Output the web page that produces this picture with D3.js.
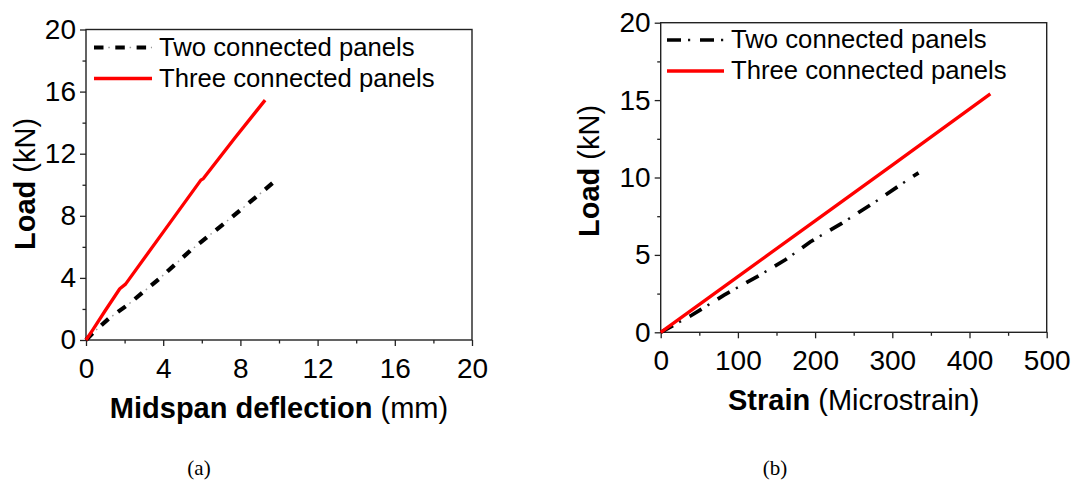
<!DOCTYPE html>
<html>
<head>
<meta charset="utf-8">
<script src="https://cdn.jsdelivr.net/npm/d3@7"></script>
<style>
  body { margin: 0; background: #fff; }
  svg { display: block; }
  text { font-family: "Liberation Sans", Arial, sans-serif; fill: #000; }
</style>
</head>
<body>
<div id="chart"></div>
<script>
// Panel (a): load vs midspan deflection
const deflTwoX = [0, 0.35, 1.2, 2.2, 3.8, 5.4, 7.2, 8.9, 9.85];
const deflTwoY = [0, 0.45, 1.4, 2.3, 3.95, 5.75, 7.55, 9.3, 10.3];
const deflThreeX = [0, 0.35, 1.0, 1.75, 2.05, 4.0, 5.95, 6.08, 7.7, 9.28];
const deflThreeY = [0, 0.65, 1.9, 3.3, 3.6, 6.95, 10.3, 10.4, 13.0, 15.45];

// Panel (b): load vs strain
const strainTwoX = [0, 40, 82, 125, 162, 194, 235, 280, 323, 334];
const strainTwoY = [0, 1.1, 2.4, 3.6, 4.7, 5.85, 7.05, 8.5, 9.95, 10.3];
const strainThreeX = [0, 100, 200, 300, 427];
const strainThreeY = [0, 3.6, 7.2, 10.8, 15.4];

const seriesNames = ["Two connected panels", "Three connected panels"];
const deflTicksX = [0, 4, 8, 12, 16, 20];
const deflTicksY = [0, 4, 8, 12, 16, 20];
const strainTicksX = [0, 100, 200, 300, 400, 500];
const strainTicksY = [0, 5, 10, 15, 20];

const width = 1075, height = 484;

const svg = d3.select("#chart")
  .append("svg")
  .attr("width", width)
  .attr("height", height);

const zip = (xs, ys) => xs.map((x, i) => [x, ys[i]]);

function drawPanel(cfg) {
  const x = d3.scaleLinear().domain(cfg.xDomain).range([cfg.left, cfg.right]);
  const y = d3.scaleLinear().domain(cfg.yDomain).range([cfg.bottom, cfg.top]);
  const g = svg.append("g");

  // minor ticks first
  g.append("g")
    .attr("transform", `translate(0,${cfg.bottom})`)
    .call(d3.axisBottom(x).tickValues(cfg.xMinor).tickSize(3.5).tickFormat(""))
    .call(a => a.select(".domain").remove());
  g.append("g")
    .attr("transform", `translate(${cfg.left},0)`)
    .call(d3.axisLeft(y).tickValues(cfg.yMinor).tickSize(3.5).tickFormat(""))
    .call(a => a.select(".domain").remove());

  // major ticks
  const xa = g.append("g")
    .attr("transform", `translate(0,${cfg.bottom})`)
    .call(d3.axisBottom(x).tickValues(cfg.xTicks).tickSize(6).tickPadding(5));
  const ya = g.append("g")
    .attr("transform", `translate(${cfg.left},0)`)
    .call(d3.axisLeft(y).tickValues(cfg.yTicks).tickSize(6).tickPadding(4));
  [xa, ya].forEach(a => {
    a.select(".domain").remove();
    a.selectAll("text").style("font-size", "28px").style("font-family", "Liberation Sans, Arial, sans-serif").attr("fill", "#000");
  });
  xa.selectAll("text").attr("dy", "0.95em");
  g.selectAll(".tick line").attr("stroke", "#222").attr("stroke-width", 1.3);

  // frame
  g.append("rect")
    .attr("x", cfg.left).attr("y", cfg.top)
    .attr("width", cfg.right - cfg.left).attr("height", cfg.bottom - cfg.top)
    .attr("fill", "none").attr("stroke", "#222").attr("stroke-width", 1.4);

  const line = d3.line().x(d => x(d[0])).y(d => y(d[1]));

  // black dash-dot series
  const two = zip(cfg.twoX, cfg.twoY);
  g.append("path").datum(two).attr("d", line)
    .attr("fill", "none").attr("stroke", "#000").attr("stroke-width", cfg.dashWidth)
    .attr("stroke-dasharray", cfg.dash);
  g.append("path").datum(two).attr("d", line)
    .attr("fill", "none").attr("stroke", cfg.dotColor).attr("stroke-width", cfg.dotWidth)
    .attr("stroke-dasharray", cfg.dot);

  // red series
  g.append("path").datum(zip(cfg.threeX, cfg.threeY)).attr("d", line)
    .attr("fill", "none").attr("stroke", "#ff0000").attr("stroke-width", 3.3)
    .attr("stroke-linejoin", "round");

  // legend
  const lg = g.append("g");
  lg.append("line")
    .attr("x1", cfg.legX1).attr("x2", cfg.legX2).attr("y1", cfg.legY[0]).attr("y2", cfg.legY[0])
    .attr("stroke", "#000").attr("stroke-width", cfg.dashWidth).attr("stroke-dasharray", cfg.dash);
  lg.append("line")
    .attr("x1", cfg.legX1).attr("x2", cfg.legX2).attr("y1", cfg.legY[0]).attr("y2", cfg.legY[0])
    .attr("stroke", cfg.dotColor).attr("stroke-width", cfg.dotWidth).attr("stroke-dasharray", cfg.dot);
  lg.append("line")
    .attr("x1", cfg.legX1).attr("x2", cfg.legX2).attr("y1", cfg.legY[1]).attr("y2", cfg.legY[1])
    .attr("stroke", "#ff0000").attr("stroke-width", 3.3);
  seriesNames.forEach((name, i) => {
    lg.append("text")
      .attr("x", cfg.legX2 + 7).attr("y", cfg.legY[i] + 8)
      .style("font-size", "25.7px")
      .text(name);
  });

  // axis titles
  const xt = g.append("text")
    .attr("x", (cfg.left + cfg.right) / 2).attr("y", cfg.xTitleY)
    .attr("text-anchor", "middle").style("font-size", "29px");
  xt.append("tspan").style("font-weight", "bold").text(cfg.xTitle[0]);
  xt.append("tspan").text(" " + cfg.xTitle[1]);

  const yt = g.append("text")
    .attr("transform", `translate(${cfg.yTitleX},${cfg.yTitleY}) rotate(-90)`)
    .attr("text-anchor", "middle").style("font-size", "29px");
  yt.append("tspan").style("font-weight", "bold").text("Load");
  yt.append("tspan").text(" (kN)");

  // caption
  svg.append("text")
    .attr("x", cfg.capX).attr("y", 475)
    .attr("text-anchor", "middle")
    .style("font-family", "Liberation Serif, Times New Roman, serif")
    .style("font-size", "21px")
    .text(cfg.caption);
}

drawPanel({
  left: 86, right: 472, top: 29.5, bottom: 340,
  xDomain: [0, 20], yDomain: [0, 20],
  xTicks: deflTicksX, yTicks: deflTicksY,
  xMinor: [2, 6, 10, 14, 18], yMinor: [2, 6, 10, 14, 18],
  twoX: deflTwoX, twoY: deflTwoY, threeX: deflThreeX, threeY: deflThreeY,
  dash: "9.5,11.8", dashWidth: 4.2,
  dot: "0,14.3,1.5,5.5", dotWidth: 1.5, dotColor: "#999",
  legX1: 94, legX2: 152, legY: [47.5, 78.5],
  xTitle: ["Midspan deflection", "(mm)"], xTitleY: 418,
  yTitleX: 35, yTitleY: 184,
  caption: "(a)", capX: 199
});

drawPanel({
  left: 660.7, right: 1046.7, top: 22.7, bottom: 332.3,
  xDomain: [0, 500], yDomain: [0, 20],
  xTicks: strainTicksX, yTicks: strainTicksY,
  xMinor: [50, 150, 250, 350, 450], yMinor: [2.5, 7.5, 12.5, 17.5],
  twoX: strainTwoX, twoY: strainTwoY, threeX: strainThreeX, threeY: strainThreeY,
  dash: "14,19", dashWidth: 3.7,
  dot: "0,21,2.2,9.8", dotWidth: 2.5, dotColor: "#111",
  legX1: 667, legX2: 724, legY: [40, 71],
  xTitle: ["Strain", "(Microstrain)"], xTitleY: 410,
  yTitleX: 599, yTitleY: 171,
  caption: "(b)", capX: 775
});
</script>
</body>
</html>
